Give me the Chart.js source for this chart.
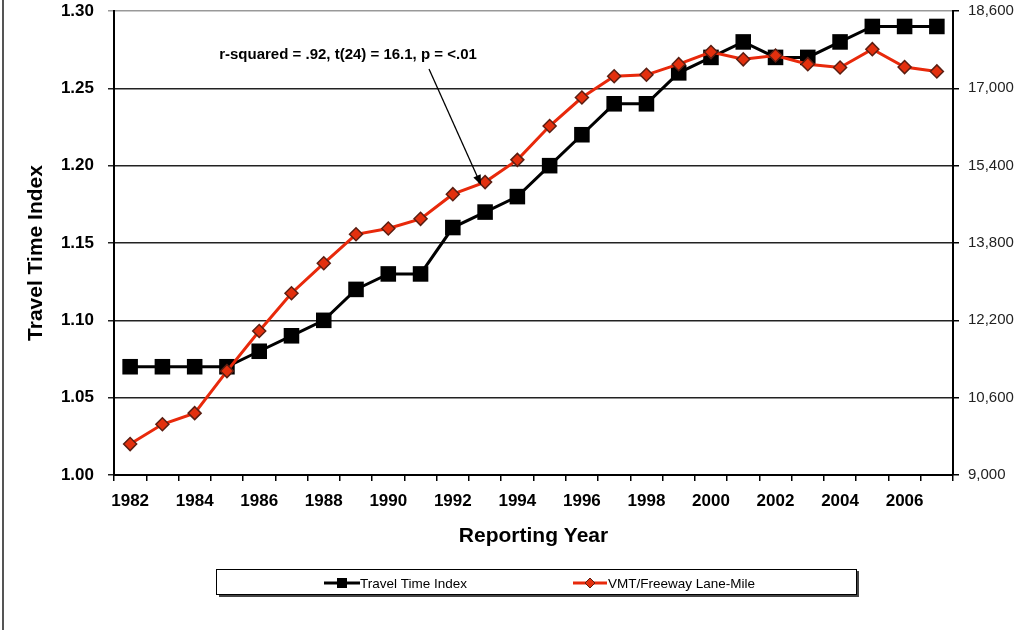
<!DOCTYPE html>
<html>
<head>
<meta charset="utf-8">
<script src="https://cdn.jsdelivr.net/npm/chart.js@4/dist/chart.umd.min.js"></script>
<style>
  html, body { margin: 0; padding: 0; background: #fff; }
  canvas { display: block; }
</style>
</head>
<body>
<canvas id="chart" width="1024" height="630"></canvas>
<script>
// reporting years on the x axis
const years = ['1982','1983','1984','1985','1986','1987','1988','1989','1990','1991','1992','1993','1994',
  '1995','1996','1997','1998','1999','2000','2001','2002','2003','2004','2005','2006','2007'];

// left axis series
const travelTimeIndex = [1.07, 1.07, 1.07, 1.07, 1.08, 1.09, 1.10, 1.12, 1.13, 1.13, 1.16, 1.17, 1.18,
  1.20, 1.22, 1.24, 1.24, 1.26, 1.27, 1.28, 1.27, 1.27, 1.28, 1.29, 1.29, 1.29];

// right axis series
const vmtPerLaneMile = [9640, 10050, 10280, 11150, 11980, 12760, 13380, 13980, 14100, 14300, 14810, 15060, 15520,
  16220, 16810, 17250, 17280, 17500, 17750, 17600, 17680, 17500, 17430, 17810, 17440, 17350];

const leftAxisRange = [1.00, 1.30, 0.05];
const rightAxisRange = [9000, 18600, 1600];
const seriesNames = ['Travel Time Index', 'VMT/Freeway Lane-Mile'];
const annotationText = 'r-squared = .92, t(24) = 16.1, p = <.01';

const FONT = '"Liberation Sans", Arial, sans-serif';
const RED = '#e8290b';

// fixed axis sizes so the plot area lands where the original has it
function fixAxis(size, horizontal) {
  return s => {
    if (horizontal) {
      s.height = size;
    } else {
      s.width = size;
      s.paddingTop = 0;
      s.paddingBottom = 0;
    }
  };
}

const extras = {
  id: 'extras',
  afterDraw(chart) {
    const ctx = chart.ctx;
    const area = chart.chartArea;
    ctx.save();

    // outer frame edge on the left
    ctx.strokeStyle = '#555';
    ctx.lineWidth = 2;
    ctx.beginPath();
    ctx.moveTo(3, 0);
    ctx.lineTo(3, 630);
    ctx.stroke();

    // axis titles
    ctx.fillStyle = '#000';
    ctx.textAlign = 'center';
    ctx.textBaseline = 'middle';
    ctx.font = 'bold 21px ' + FONT;
    ctx.fillText('Reporting Year', (area.left + area.right) / 2, 536);
    ctx.save();
    ctx.translate(36, 253);
    ctx.rotate(-Math.PI / 2);
    ctx.fillText('Travel Time Index', 0, 0);
    ctx.restore();

    // annotation with arrow pointing at the 1993 point
    ctx.font = 'bold 15px ' + FONT;
    ctx.fillText(annotationText, 348, 55);
    const meta = chart.getDatasetMeta(1);
    const pt = meta.data[years.indexOf('1993')];
    const tipX = pt.x - 4, tipY = pt.y + 3;
    const sx = 429, sy = 69;
    const ang = Math.atan2(tipY - sy, tipX - sx);
    ctx.strokeStyle = '#000';
    ctx.lineWidth = 1.3;
    ctx.beginPath();
    ctx.moveTo(sx, sy);
    ctx.lineTo(tipX - 8 * Math.cos(ang), tipY - 8 * Math.sin(ang));
    ctx.stroke();
    ctx.beginPath();
    ctx.moveTo(tipX, tipY);
    ctx.lineTo(tipX - 10 * Math.cos(ang) + 4 * Math.sin(ang), tipY - 10 * Math.sin(ang) - 4 * Math.cos(ang));
    ctx.lineTo(tipX - 10 * Math.cos(ang) - 4 * Math.sin(ang), tipY - 10 * Math.sin(ang) + 4 * Math.cos(ang));
    ctx.closePath();
    ctx.fillStyle = '#000';
    ctx.fill();

    // legend box
    ctx.fillStyle = '#444';
    ctx.fillRect(219, 571, 640, 26);
    ctx.fillStyle = '#fff';
    ctx.fillRect(216, 569, 640, 25);
    ctx.strokeStyle = '#000';
    ctx.lineWidth = 1;
    ctx.strokeRect(216.5, 569.5, 640, 25);

    // legend entries
    const ly = 583;
    ctx.lineWidth = 3;
    ctx.strokeStyle = '#000';
    ctx.beginPath();
    ctx.moveTo(324, ly); ctx.lineTo(360, ly);
    ctx.stroke();
    ctx.fillStyle = '#000';
    ctx.fillRect(337, ly - 5, 10, 10);

    ctx.strokeStyle = RED;
    ctx.beginPath();
    ctx.moveTo(573, ly); ctx.lineTo(607, ly);
    ctx.stroke();
    ctx.beginPath();
    ctx.moveTo(590, ly - 5); ctx.lineTo(595, ly); ctx.lineTo(590, ly + 5); ctx.lineTo(585, ly);
    ctx.closePath();
    ctx.fillStyle = '#e3300e';
    ctx.fill();
    ctx.strokeStyle = '#5a1e12';
    ctx.lineWidth = 1;
    ctx.stroke();

    ctx.fillStyle = '#000';
    ctx.textAlign = 'left';
    ctx.font = '13.5px ' + FONT;
    ctx.fillText(seriesNames[0], 360, ly + 1);
    ctx.fillText(seriesNames[1], 608, ly + 1);

    ctx.restore();
  }
};

const chart = new Chart(document.getElementById('chart').getContext('2d'), {
  type: 'line',
  data: {
    labels: years,
    datasets: [{
      label: seriesNames[0],
      data: travelTimeIndex,
      yAxisID: 'y',
      order: 1,
      borderColor: '#000',
      borderWidth: 3,
      pointStyle: 'rect',
      pointRadius: 11,
      pointBackgroundColor: '#000',
      pointBorderWidth: 0,
      tension: 0
    }, {
      label: seriesNames[1],
      data: vmtPerLaneMile,
      yAxisID: 'y2',
      order: 0,
      borderColor: RED,
      borderWidth: 3,
      pointStyle: 'rectRot',
      pointRadius: 6.5,
      pointBackgroundColor: '#e3300e',
      pointBorderColor: '#5a1e12',
      pointBorderWidth: 1.5,
      tension: 0
    }]
  },
  options: {
    responsive: false,
    animation: false,
    layout: { padding: { top: 11, bottom: 95, left: 0, right: 0 } },
    plugins: {
      legend: { display: false },
      tooltip: { enabled: false }
    },
    scales: {
      x: {
        type: 'category',
        offset: true,
        grid: { offset: true, drawOnChartArea: false, tickLength: 6, color: '#000', lineWidth: 1.5 },
        border: { color: '#000', width: 2 },
        ticks: {
          autoSkip: false,
          maxRotation: 0,
          padding: 10,
          color: '#000',
          font: { family: FONT, size: 17, weight: 'bold' },
          callback: (v, i) => (i % 2 === 0 ? years[i] : '')
        },
        afterFit: fixAxis(60, true)
      },
      y: {
        position: 'left',
        min: leftAxisRange[0],
        max: leftAxisRange[1],
        ticks: {
          stepSize: leftAxisRange[2],
          padding: 14,
          color: '#000',
          font: { family: FONT, size: 17, weight: 'bold' },
          callback: v => Number(v).toFixed(2)
        },
        grid: {
          tickLength: 6,
          lineWidth: 1.5,
          color: c => (c.tick && c.tick.value > 1.299 ? '#999' : '#222')
        },
        border: { color: '#000', width: 2 },
        afterFit: fixAxis(114, false)
      },
      y2: {
        position: 'right',
        min: rightAxisRange[0],
        max: rightAxisRange[1],
        ticks: {
          stepSize: rightAxisRange[2],
          padding: 9,
          color: '#222',
          font: { family: FONT, size: 15 },
          callback: v => Number(v).toLocaleString('en-US')
        },
        grid: { drawOnChartArea: false, tickLength: 6, color: '#000', lineWidth: 1.5 },
        border: { color: '#000', width: 2 },
        afterFit: fixAxis(71, false)
      }
    }
  },
  plugins: [extras]
});
</script>
</body>
</html>
